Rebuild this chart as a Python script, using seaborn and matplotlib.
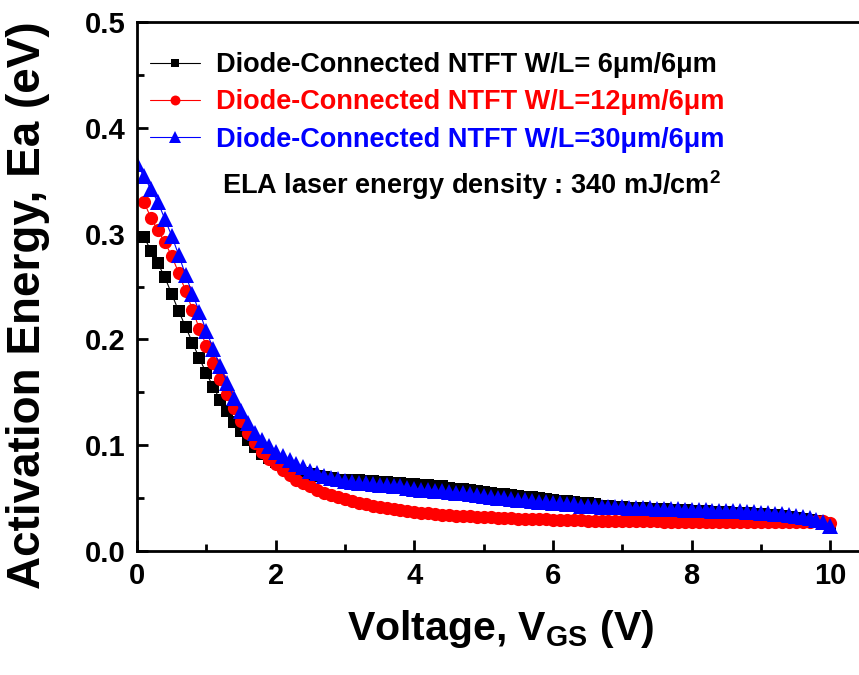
import matplotlib
matplotlib.use('Agg')
import pandas as pd
import matplotlib.pyplot as plt
import seaborn as sns

# gate voltage sweep (V)
volts = [0.0,
         0.1, 0.2, 0.3, 0.4, 0.5, 0.6, 0.7, 0.8, 0.9, 1.0,
         1.1, 1.2, 1.3, 1.4, 1.5, 1.6, 1.7, 1.8, 1.9, 2.0,
         2.1, 2.2, 2.3, 2.4, 2.5, 2.6, 2.7, 2.8, 2.9, 3.0,
         3.1, 3.2, 3.3, 3.4, 3.5, 3.6, 3.7, 3.8, 3.9, 4.0,
         4.1, 4.2, 4.3, 4.4, 4.5, 4.6, 4.7, 4.8, 4.9, 5.0,
         5.1, 5.2, 5.3, 5.4, 5.5, 5.6, 5.7, 5.8, 5.9, 6.0,
         6.1, 6.2, 6.3, 6.4, 6.5, 6.6, 6.7, 6.8, 6.9, 7.0,
         7.1, 7.2, 7.3, 7.4, 7.5, 7.6, 7.7, 7.8, 7.9, 8.0,
         8.1, 8.2, 8.3, 8.4, 8.5, 8.6, 8.7, 8.8, 8.9, 9.0,
         9.1, 9.2, 9.3, 9.4, 9.5, 9.6, 9.7, 9.8, 9.9, 10.0]

# activation energy (eV), W/L = 6um/6um, starts at 0.1 V
ea_6um = [0.297, 0.284, 0.272, 0.259, 0.243, 0.227, 0.212, 0.197, 0.182, 0.168,
          0.155, 0.143, 0.132, 0.122, 0.113, 0.105, 0.098, 0.092, 0.088, 0.084,
          0.081, 0.078, 0.076, 0.074, 0.073, 0.071, 0.070, 0.069, 0.067, 0.067,
          0.067, 0.067, 0.066, 0.066, 0.065, 0.065, 0.064, 0.064, 0.063, 0.063,
          0.062, 0.062, 0.061, 0.061, 0.060, 0.059, 0.059, 0.058, 0.057, 0.056,
          0.055, 0.054, 0.054, 0.053, 0.052, 0.051, 0.051, 0.050, 0.049, 0.048,
          0.047, 0.047, 0.046, 0.045, 0.045, 0.044, 0.043, 0.043, 0.042, 0.042,
          0.041, 0.041, 0.041, 0.040, 0.040, 0.040, 0.039, 0.039, 0.039, 0.038,
          0.038, 0.038, 0.037, 0.037, 0.037, 0.036, 0.036, 0.036, 0.035, 0.035,
          0.034, 0.034, 0.033, 0.032, 0.031, 0.030, 0.029, 0.028, 0.026, 0.024]

# W/L = 12um/6um, starts at 0.1 V
ea_12um = [0.330, 0.315, 0.303, 0.292, 0.279, 0.263, 0.246, 0.228, 0.210, 0.194,
           0.178, 0.163, 0.148, 0.135, 0.123, 0.112, 0.102, 0.094, 0.087, 0.082,
           0.077, 0.072, 0.067, 0.064, 0.061, 0.058, 0.055, 0.053, 0.051, 0.049,
           0.047, 0.045, 0.044, 0.043, 0.042, 0.041, 0.040, 0.039, 0.038, 0.037,
           0.036, 0.036, 0.035, 0.034, 0.034, 0.033, 0.033, 0.033, 0.032, 0.032,
           0.032, 0.031, 0.031, 0.031, 0.030, 0.030, 0.030, 0.030, 0.030, 0.029,
           0.029, 0.029, 0.029, 0.029, 0.028, 0.028, 0.028, 0.028, 0.028, 0.028,
           0.028, 0.028, 0.028, 0.028, 0.028, 0.027, 0.027, 0.027, 0.027, 0.027,
           0.027, 0.027, 0.027, 0.027, 0.027, 0.027, 0.027, 0.027, 0.027, 0.027,
           0.027, 0.027, 0.027, 0.027, 0.027, 0.027, 0.027, 0.028, 0.028, 0.026]

# W/L = 30um/6um, starts at 0.0 V
ea_30um = [0.366,
           0.354, 0.342, 0.330, 0.314, 0.298, 0.280, 0.261, 0.243, 0.226, 0.208,
           0.191, 0.175, 0.159, 0.145, 0.132, 0.121, 0.112, 0.105, 0.099, 0.094,
           0.090, 0.086, 0.082, 0.079, 0.076, 0.074, 0.071, 0.069, 0.068, 0.066,
           0.065, 0.064, 0.064, 0.063, 0.062, 0.062, 0.061, 0.061, 0.060, 0.059,
           0.058, 0.058, 0.057, 0.057, 0.056, 0.055, 0.055, 0.054, 0.053, 0.052,
           0.051, 0.050, 0.050, 0.049, 0.048, 0.048, 0.047, 0.046, 0.046, 0.045,
           0.045, 0.044, 0.044, 0.043, 0.043, 0.043, 0.042, 0.042, 0.042, 0.042,
           0.041, 0.041, 0.041, 0.041, 0.040, 0.040, 0.040, 0.040, 0.039, 0.039,
           0.039, 0.039, 0.038, 0.038, 0.038, 0.038, 0.038, 0.037, 0.037, 0.036,
           0.036, 0.035, 0.035, 0.034, 0.033, 0.032, 0.031, 0.029, 0.027, 0.024]

labels = ['Diode-Connected NTFT W/L= 6\u03bcm/6\u03bcm',
          'Diode-Connected NTFT W/L=12\u03bcm/6\u03bcm',
          'Diode-Connected NTFT W/L=30\u03bcm/6\u03bcm']
colors = ['black', 'red', 'blue']

sns.set_theme(style='ticks')
plt.rcParams['font.family'] = ['Liberation Sans', 'DejaVu Sans']
plt.rcParams['font.weight'] = 'bold'
plt.rcParams['text.color'] = 'black'
plt.rcParams['axes.labelcolor'] = 'black'
plt.rcParams['xtick.color'] = 'black'
plt.rcParams['ytick.color'] = 'black'
plt.rcParams['mathtext.fontset'] = 'custom'
plt.rcParams['mathtext.rm'] = 'Liberation Sans:bold'
plt.rcParams['mathtext.it'] = 'Liberation Sans:bold'
plt.rcParams['mathtext.bf'] = 'Liberation Sans:bold'

fig = plt.figure(figsize=(8.59, 6.75), dpi=100)
ax = fig.add_axes([137 / 859, 124 / 675, 728 / 859, 529 / 675])

df6 = pd.DataFrame({'V': volts[1:], 'Ea': ea_6um})
df12 = pd.DataFrame({'V': volts[1:], 'Ea': ea_12um})
df30 = pd.DataFrame({'V': volts, 'Ea': ea_30um})

sns.lineplot(data=df6, x='V', y='Ea', color=colors[0], marker='s', markersize=8.5,
             markeredgewidth=0, linewidth=0.8, label=labels[0], ax=ax)
sns.lineplot(data=df12, x='V', y='Ea', color=colors[1], marker='o', markersize=9.5,
             markeredgewidth=0, linewidth=0.8, label=labels[1], ax=ax)
sns.lineplot(data=df30, x='V', y='Ea', color=colors[2], marker='^', markersize=11,
             markeredgewidth=0, linewidth=0.8, label=labels[2], ax=ax)

ax.set_xlim(0, 10.5)
ax.set_ylim(0, 0.5)
ax.set_xticks([0, 2, 4, 6, 8, 10])
ax.set_xticks([1, 3, 5, 7, 9], minor=True)
ax.set_yticks([0.0, 0.1, 0.2, 0.3, 0.4, 0.5])
ax.set_yticks([0.05, 0.15, 0.25, 0.35, 0.45], minor=True)
ax.set_yticklabels(['0.0', '0.1', '0.2', '0.3', '0.4', '0.5'])
ax.tick_params(which='major', direction='in', length=8, width=2, labelsize=21, pad=8)
ax.tick_params(which='minor', direction='in', length=5, width=2)
for t in ax.get_xticklabels() + ax.get_yticklabels():
    t.set_fontweight('bold')
for s in ['left', 'bottom', 'top']:
    ax.spines[s].set_linewidth(2)
    ax.spines[s].set_color('black')
ax.spines['right'].set_visible(False)

ax.set_xlabel('Voltage, V$_{GS}$ (V)', fontsize=29.5, fontweight='bold')
ax.set_ylabel('Activation Energy, Ea (eV)', fontsize=33, fontweight='bold')
ax.xaxis.set_label_coords(0.5, -0.107)
ax.yaxis.set_label_coords(-0.119, 0.465)

ax.legend(loc='upper left', bbox_to_anchor=(150 / 859, 1 - 52 / 675),
          bbox_transform=fig.transFigure, frameon=False, borderpad=0,
          borderaxespad=0, handlelength=1.85, handletextpad=0.6,
          labelspacing=0.42, markerscale=0.75, labelcolor='linecolor',
          prop={'weight': 'bold', 'size': 19.5})

fig.text(222 / 859, 1 - 185 / 675, 'ELA laser energy density : 340 mJ/cm$^{2}$',
         fontsize=19.5, fontweight='bold', va='center', ha='left')

fig.savefig('out.png', dpi=100)
